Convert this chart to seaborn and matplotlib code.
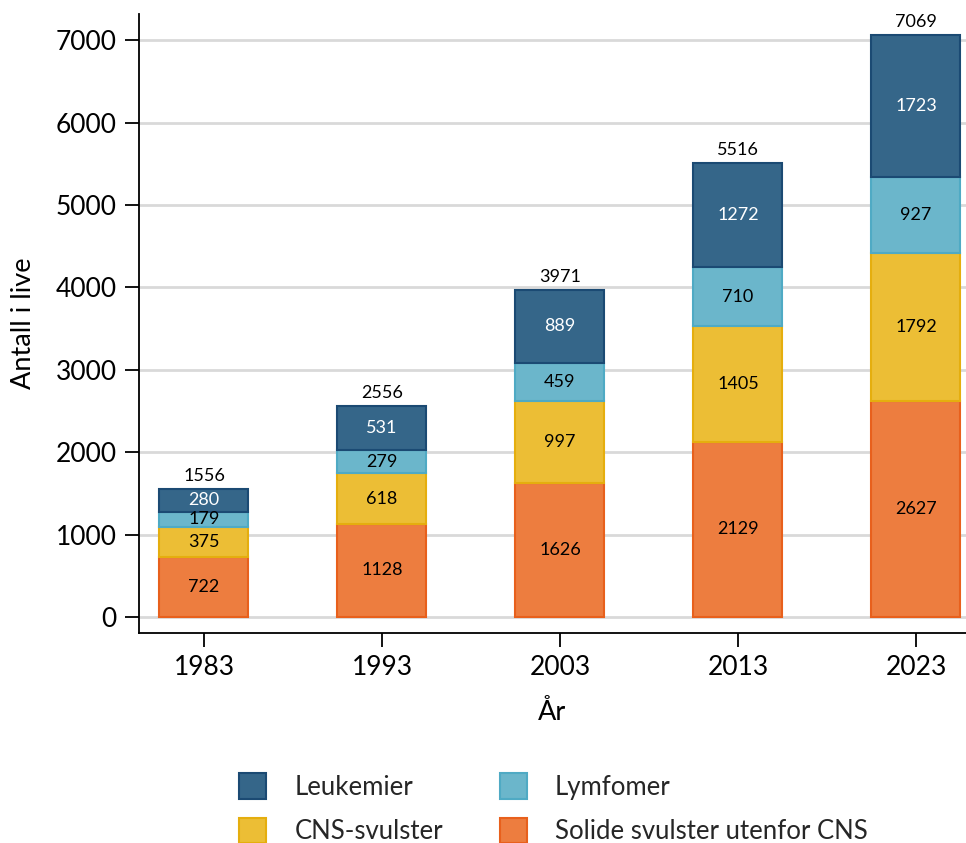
import matplotlib
matplotlib.use("Agg")
import matplotlib.pyplot as plt
import seaborn as sns
import numpy as np
import pandas as pd

years = ["1983", "1993", "2003", "2013", "2023"]
solide = [722, 1128, 1626, 2129, 2627]
cns = [375, 618, 997, 1405, 1792]
lymfomer = [179, 279, 459, 710, 927]
leukemier = [280, 531, 889, 1272, 1723]
totals = [1556, 2556, 3971, 5516, 7069]

series_names = ["Solide svulster utenfor CNS", "CNS-svulster", "Lymfomer", "Leukemier"]
series_values = [solide, cns, lymfomer, leukemier]
fills = ["#ED7D3F", "#ECBE35", "#6BB6CB", "#356689"]
edges = ["#E8601C", "#E5AE0E", "#4FAAC4", "#1B4A73"]
text_colors = ["black", "black", "black", "white"]

sns.set_theme(style="white")
plt.rcParams["font.family"] = ["Lato", "DejaVu Sans"]

fig = plt.figure(figsize=(9.66, 8.43), dpi=100)
ax = fig.add_axes([139/966, 1-633/843, 1-139/966, (633-14)/843])

bottom = np.zeros(len(years))
containers = {}
for name, vals, fc, ec, tc in zip(series_names, series_values, fills, edges, text_colors):
    df = pd.DataFrame({"year": years, "value": vals})
    sns.barplot(data=df, x="year", y="value", bottom=bottom, color=fc, edgecolor=ec,
                linewidth=1.5, width=0.5, saturation=1, ax=ax, label=name)
    cont = ax.containers[-1]
    containers[name] = cont
    ax.bar_label(cont, labels=[str(v) for v in vals], label_type="center",
                 color=tc, fontsize=13)
    bottom = bottom + np.array(vals)

if ax.get_legend() is not None:
    ax.get_legend().remove()

for i, t in enumerate(totals):
    ax.text(i, bottom[i] + 60, str(t), ha="center", va="bottom", fontsize=13, color="black")

ax.set_ylim(-195, 7320)
ax.set_xlim(-0.365, (966-204)/178)
ax.set_yticks(range(0, 7001, 1000))
ax.yaxis.grid(True, color="#D9D9D9", linewidth=2)
ax.set_axisbelow(True)
for s in ["top", "right"]:
    ax.spines[s].set_visible(False)
ax.spines["left"].set_color("black")
ax.spines["bottom"].set_color("black")
ax.spines["left"].set_linewidth(1.3)
ax.spines["bottom"].set_linewidth(1.3)
ax.tick_params(axis="both", which="both", direction="out", length=10, width=1.3,
               color="black", labelsize=19, labelcolor="black", left=True, bottom=True)
ax.tick_params(axis="y", pad=6)
ax.tick_params(axis="x", pad=6)
ax.set_xlabel("År", fontsize=19.5, color="black", labelpad=14)
ax.set_ylabel("Antall i live", fontsize=19.5, color="black", labelpad=14)

handles = [containers["Leukemier"], containers["CNS-svulster"],
           containers["Lymfomer"], containers["Solide svulster utenfor CNS"]]
labels = ["Leukemier", "CNS-svulster", "Lymfomer", "Solide svulster utenfor CNS"]
fig.legend(handles, labels, ncol=2, loc="upper left", bbox_to_anchor=(216/966, 1-750/843),
           frameon=False, fontsize=18.5, handlelength=1.05, handleheight=1.15,
           handletextpad=1.1, columnspacing=2.2, labelspacing=0.7)

fig.savefig("out.png", dpi=100)
